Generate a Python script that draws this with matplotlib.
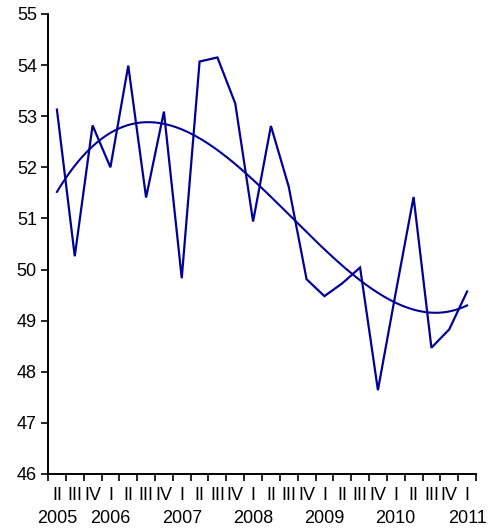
import numpy as np
import matplotlib
matplotlib.use("Agg")
import matplotlib.pyplot as plt
from matplotlib.transforms import blended_transform_factory

plt.rcParams['font.family'] = ['Liberation Sans', 'DejaVu Sans']

quarters = ["II", "III", "IV",
            "I", "II", "III", "IV",
            "I", "II", "III", "IV",
            "I", "II", "III", "IV",
            "I", "II", "III", "IV",
            "I", "II", "III", "IV",
            "I"]
years = ["2005", "2006", "2007", "2008", "2009", "2010", "2011"]
year_index = [0, 3, 7, 11, 15, 19, 23]
values = [53.13, 50.26, 52.82, 52.00, 53.99, 51.41, 53.09, 49.83,
          54.07, 54.15, 53.25, 50.94, 52.81, 51.62, 49.81, 49.48,
          49.73, 50.04, 47.64, 49.55, 51.42, 48.47, 48.83, 49.57]

color = "#000099"
fs = 13

fig = plt.figure(figsize=(4.88, 5.29), dpi=100)
ax = fig.add_axes([48 / 488, 1 - 474 / 529, 428 / 488, 460 / 529])

x = np.arange(len(values))
ax.plot(x, values, color=color, lw=1.6, solid_joinstyle="miter")

# polynomial trend line fitted to the series
coef = np.polyfit(x, values, 3)
xf = np.linspace(0, len(values) - 1, 200)
ax.plot(xf, np.polyval(coef, xf), color=color, lw=1.5)

ax.set_xlim(-0.5, len(values) - 0.5)
ax.set_ylim(46, 55)
ax.set_yticks(range(46, 56))
ax.tick_params(axis="y", direction="out", length=5, width=1.2, labelsize=fs, pad=3)

ax.set_xticks(np.arange(-0.5, len(values)), labels=[""] * (len(values) + 1))
ax.tick_params(axis="x", which="major", direction="out", length=5, width=1.2)
ax.set_xticks(x, labels=quarters, minor=True)
ax.tick_params(axis="x", which="minor", length=0, labelsize=fs, pad=9)

trans = blended_transform_factory(ax.transData, ax.transAxes)
for yr, i in zip(years, year_index):
    ax.text(i, -0.078, yr, transform=trans, ha="center", va="top", fontsize=fs)

for side in ("top", "right"):
    ax.spines[side].set_visible(False)
for side in ("left", "bottom"):
    ax.spines[side].set_linewidth(1.4)

fig.savefig("out.png", dpi=100)
